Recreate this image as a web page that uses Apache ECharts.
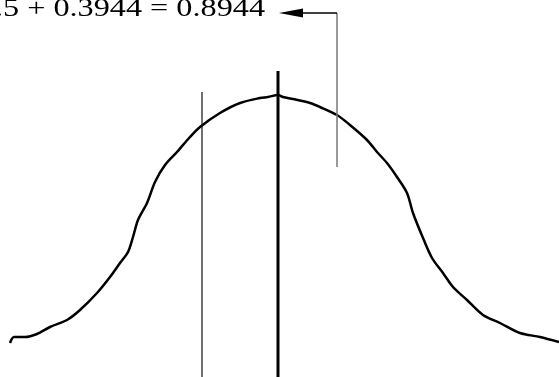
<!DOCTYPE html>
<html>
<head>
<meta charset="utf-8">
<script src="https://cdn.jsdelivr.net/npm/echarts@6/dist/echarts.min.js"></script>
<style>
  html, body { margin: 0; padding: 0; background: #fff; }
  #chart { width: 559px; height: 377px; }
</style>
</head>
<body>
<div id="chart"></div>
<script>
// traced curve, x / y in picture units (y grows downward)
const curveX = [10, 14, 25, 37, 50, 67, 80, 97, 110, 120, 128, 133, 138, 147, 155, 165, 177, 190, 200, 220, 240, 260, 268, 278, 283, 293, 310, 320, 337, 350, 367, 377, 387, 397, 407, 413, 423, 432, 443, 453, 467, 483, 500, 520, 540, 559];
const curveY = [343, 337, 337, 334, 327, 320, 310, 293, 277, 263, 252, 237, 220, 203, 182, 165, 152, 137, 127, 113, 103, 98, 97, 95, 97, 99, 103, 107, 115, 125, 140, 152, 163, 177, 193, 213, 238, 258, 273, 287, 300, 315, 323, 333, 337, 342];

// vertical markers: x, top, bottom
const leftMark = [202, 92, 377];
const meanMark = [278, 71, 377];
const pointerMark = [337, 13, 167];
const arrowTipX = 279;
const label = '0.5 + 0.3944 = 0.8944';

const chart = echarts.init(document.getElementById('chart'));

const vline = (m, width, color) => ({
  type: 'line',
  data: [[m[0], m[1]], [m[0], m[2]]],
  symbol: 'none',
  silent: true,
  lineStyle: { color: color, width: width }
});

chart.setOption({
  animation: false,
  backgroundColor: '#fff',
  grid: { left: 0, right: 0, top: 0, bottom: 0 },
  xAxis: { type: 'value', min: 0, max: 559, show: false },
  yAxis: { type: 'value', min: 0, max: 377, inverse: true, show: false },
  series: [
    {
      type: 'line',
      data: curveX.map((x, i) => [x, curveY[i]]),
      symbol: 'none',
      smooth: 0.3,
      lineStyle: { color: '#000', width: 2.5 }
    },
    vline(leftMark, 1.2, '#111'),
    vline(meanMark, 3, '#000'),
    vline(pointerMark, 1.5, '#777'),
    {
      type: 'line',
      data: [
        [pointerMark[0], pointerMark[1]],
        { value: [arrowTipX + 12, pointerMark[1]], symbol: 'triangle', symbolSize: [9, 24], symbolRotate: 90 }
      ],
      symbol: 'none',
      showSymbol: true,
      itemStyle: { color: '#000' },
      lineStyle: { color: '#000', width: 1.5 }
    }
  ],
  graphic: [{
    type: 'text',
    x: 265,
    y: -4,
    scaleX: 1.24,
    style: {
      text: label,
      align: 'right',
      verticalAlign: 'top',
      font: '26px "Liberation Serif", "Times New Roman", serif',
      fill: '#000'
    }
  }]
});
</script>
</body>
</html>
